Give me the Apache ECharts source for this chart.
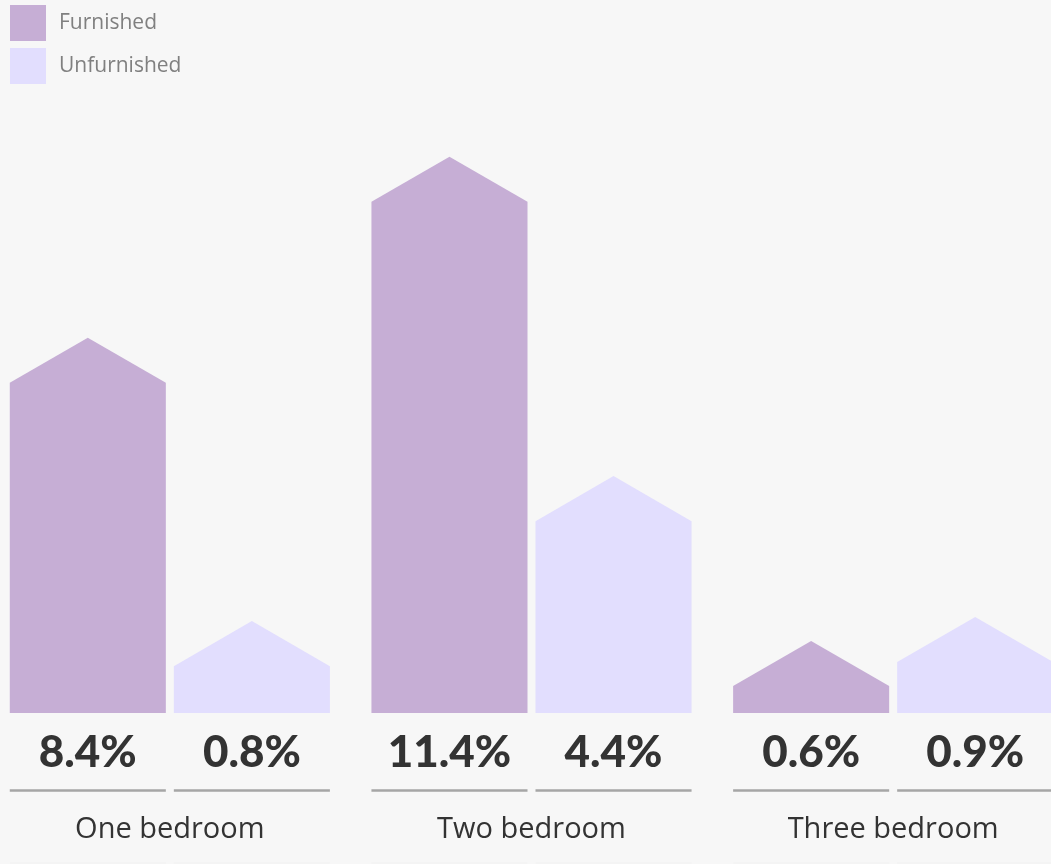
<!DOCTYPE html>
<html>
<head>
<meta charset="utf-8">
<script src="https://cdn.jsdelivr.net/npm/echarts@6/dist/echarts.min.js"></script>
<style>
  html, body { margin: 0; padding: 0; background: #f7f7f7; }
  #chart { width: 1051px; height: 864px; }
</style>
</head>
<body>
<div id="chart"></div>
<script>
// ---- Data ----
const categories = ['One bedroom', 'Two bedroom', 'Three bedroom'];
const seriesNames = ['Furnished', 'Unfurnished'];
// Printed percentages
const furnishedLabels = [8.4, 11.4, 0.6];
const unfurnishedLabels = [0.8, 4.4, 0.9];
// Bar (wall) heights, in the same axis units
const furnishedHeights = [7.33, 11.35, 0.60];
const unfurnishedHeights = [1.04, 4.26, 1.13];

const colors = ['#c6aed5', '#e2defe'];

const chart = echarts.init(document.getElementById('chart'));

function makeRender(side) {
  return function (params, api) {
    const cat = api.value(0);
    const val = api.value(1);
    const label = api.value(2);
    const base = api.coord([cat, 0]);
    const top = api.coord([cat, val]);
    const band = api.size([1, 0])[0];
    const barW = band * 0.4315;
    const gap = 8;
    const cx = base[0] + side * (barW / 2 + gap / 2);
    const left = cx - barW / 2;
    const right = cx + barW / 2;
    const roofH = (barW / 2) * Math.tan(Math.PI / 6);
    const eave = top[1];
    const style = api.style();
    return {
      type: 'group',
      children: [
        {
          type: 'polygon',
          shape: {
            points: [
              [left, base[1]],
              [left, eave],
              [cx, eave - roofH],
              [right, eave],
              [right, base[1]]
            ]
          },
          style: { fill: style.fill }
        },
        {
          type: 'text',
          x: cx,
          y: base[1] + 40,
          style: {
            text: label.toFixed(1) + '%',
            fill: '#333333',
            font: '900 44px Lato',
            align: 'center',
            verticalAlign: 'middle'
          }
        },
        {
          type: 'line',
          shape: { x1: left, y1: base[1] + 77.5, x2: right, y2: base[1] + 77.5 },
          style: { stroke: '#a6a6a6', lineWidth: 2.5 }
        },
        {
          type: 'line',
          shape: { x1: left, y1: base[1] + 150, x2: right, y2: base[1] + 150 },
          style: { stroke: '#f1f1f1', lineWidth: 1 }
        }
      ]
    };
  };
}

const option = {
  backgroundColor: '#f7f7f7',
  animation: false,
  legend: {
    orient: 'vertical',
    left: 10,
    top: 5,
    padding: 0,
    icon: 'rect',
    itemWidth: 36,
    itemHeight: 36,
    itemGap: 7,
    data: seriesNames,
    textStyle: {
      fontFamily: 'Open Sans',
      fontSize: 21,
      color: '#808080',
      padding: [6, 0, 0, 8]
    }
  },
  grid: { left: -11, right: -23, top: 150, bottom: 151, containLabel: false, outerBoundsMode: 'none' },
  xAxis: {
    type: 'category',
    data: categories,
    axisLine: { show: false },
    axisTick: { show: false },
    splitLine: { show: false },
    axisLabel: {
      margin: 117,
      verticalAlign: 'middle',
      fontFamily: 'Open Sans',
      fontSize: 29,
      color: '#333333'
    }
  },
  yAxis: {
    type: 'value',
    min: 0,
    max: 12.5,
    show: false
  },
  series: [
    {
      name: seriesNames[0],
      type: 'custom',
      itemStyle: { color: colors[0] },
      renderItem: makeRender(-1),
      encode: { x: 0, y: 1 },
      data: categories.map((c, i) => [i, furnishedHeights[i], furnishedLabels[i]])
    },
    {
      name: seriesNames[1],
      type: 'custom',
      itemStyle: { color: colors[1] },
      renderItem: makeRender(1),
      encode: { x: 0, y: 1 },
      data: categories.map((c, i) => [i, unfurnishedHeights[i], unfurnishedLabels[i]])
    }
  ]
};

chart.setOption(option);
</script>
</body>
</html>
